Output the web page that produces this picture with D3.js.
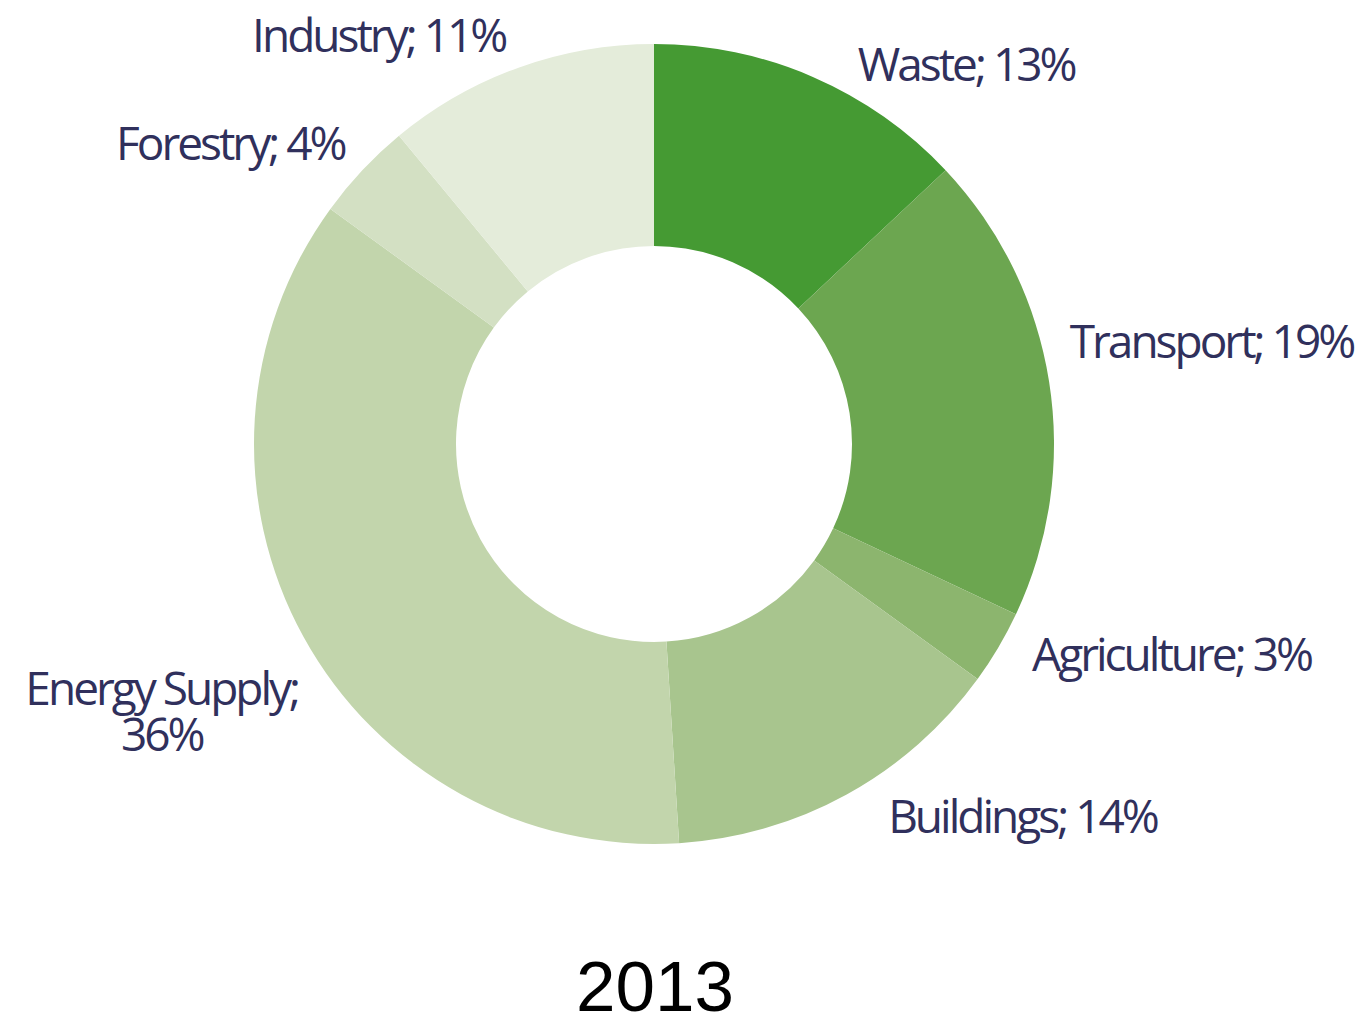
<!DOCTYPE html>
<html lang="en">
<head>
    <meta charset="UTF-8">
    <title>2013</title>
    <script src="https://d3js.org/d3.v7.min.js"></script>
    <style>
        body { margin: 0; background: #fff; }
        .lbl { font-family: "Open Sans", sans-serif; font-size: 46px; fill: #30305c; letter-spacing: -3px; }
        .year { font-family: "Liberation Sans", Arial, sans-serif; font-size: 71px; fill: #000; }
    </style>
</head>
<body>
<div id="chart"></div>
<script>
    var sectors = ["Waste", "Transport", "Agriculture", "Buildings", "Energy Supply", "Forestry", "Industry"];
    var shares = [13, 19, 3, 14, 36, 4, 11];
    var colors = ["#459a33", "#6ca650", "#8cb56e", "#a8c58e", "#c2d5ac", "#d3e0c3", "#e4ecda"];
    // small nudges so labels sit where the original put them
    var labelNudge = [[33, 16], [-9, -35], [8, -8], [27, -4], [21, 61], [4, -6], [-3, -4]];
    var yearLabel = "2013";

    var width = 1358, height = 1019;
    var cx = 654, cy = 444, outerR = 400, innerR = 198;

    var svg = d3.select("#chart").append("svg")
        .attr("width", width)
        .attr("height", height);

    var g = svg.append("g").attr("transform", "translate(" + cx + "," + cy + ")");

    var data = sectors.map(function(s, i) { return { name: s, value: shares[i], i: i }; });

    var pie = d3.pie().sort(null).value(function(d) { return d.value; });
    var arc = d3.arc().innerRadius(innerR).outerRadius(outerR);
    var labelArc = d3.arc().innerRadius(430).outerRadius(430);

    var arcs = pie(data);

    g.selectAll("path.slice")
        .data(arcs)
        .enter().append("path")
        .attr("class", "slice")
        .attr("d", arc)
        .attr("fill", function(d) { return colors[d.data.i]; });

    arcs.forEach(function(d) {
        var p = labelArc.centroid(d);
        var mid = (d.startAngle + d.endAngle) / 2;
        var right = mid < Math.PI;
        var n = labelNudge[d.data.i];
        var x = p[0] + n[0], y = p[1] + n[1];
        var t = g.append("text")
            .attr("class", "lbl")
            .attr("text-anchor", right ? "start" : "end")
            .attr("x", x)
            .attr("y", y);
        if (d.data.name === "Energy Supply") {
            // wraps onto two lines, second line centred under the first
            var l1 = t.append("tspan")
                .attr("x", x)
                .attr("y", y - 23)
                .attr("dy", "0.35em")
                .text(d.data.name + ";");
            var w = l1.node().getComputedTextLength();
            t.append("tspan")
                .attr("text-anchor", "middle")
                .attr("x", x - w / 2)
                .attr("y", y + 23)
                .attr("dy", "0.35em")
                .text(d.data.value + "%");
        } else {
            t.attr("dy", "0.35em").text(d.data.name + "; " + d.data.value + "%");
        }
    });

    svg.append("text")
        .attr("class", "year")
        .attr("text-anchor", "middle")
        .attr("x", cx + 1)
        .attr("y", 1011)
        .text(yearLabel);
</script>
</body>
</html>
